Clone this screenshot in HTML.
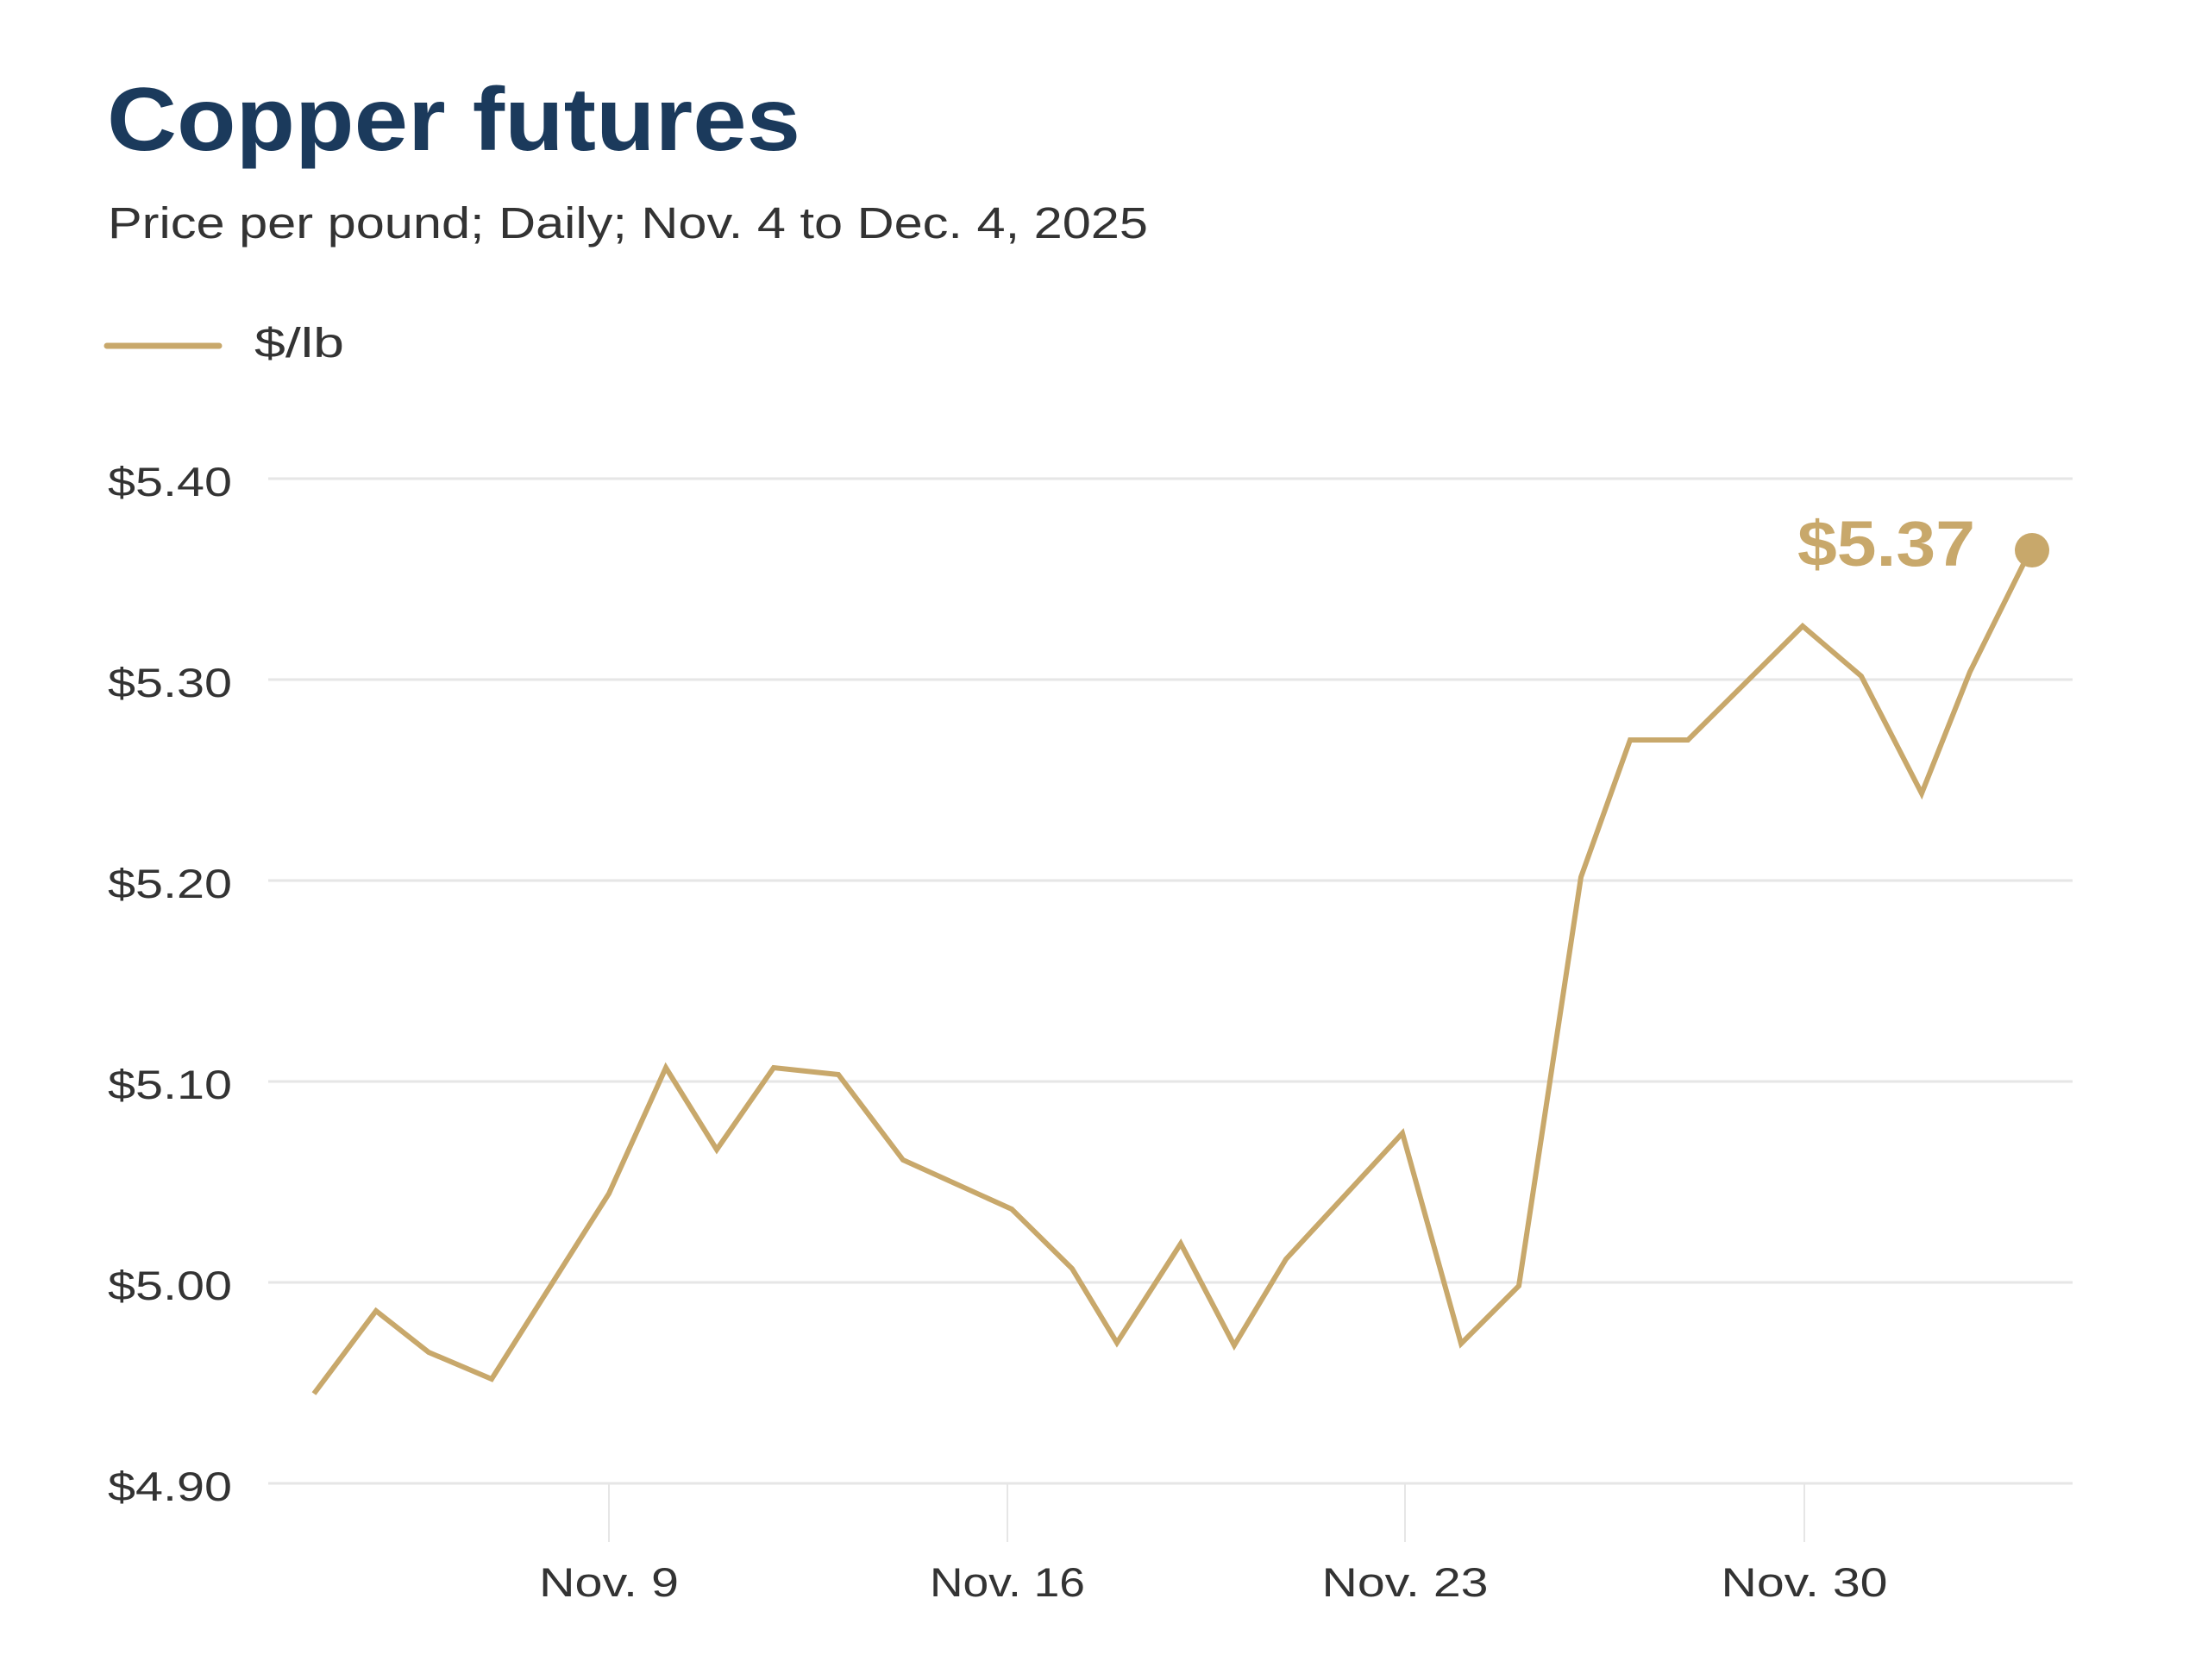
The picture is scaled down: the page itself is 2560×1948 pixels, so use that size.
<!DOCTYPE html>
<html><head><meta charset="utf-8"><style>
html,body{margin:0;padding:0;background:#fff;}
svg{display:block;}
text{font-family:"Liberation Sans",sans-serif;}
</style></head><body>
<svg width="2560" height="1948" viewBox="0 0 2560 1948" xmlns="http://www.w3.org/2000/svg">
<rect width="2560" height="1948" fill="#fff"/>
<text x="124" y="174" font-size="104" font-weight="bold" fill="#1b3a5c" textLength="804" lengthAdjust="spacingAndGlyphs">Copper futures</text>
<text x="125" y="276" font-size="51" fill="#333" textLength="1206" lengthAdjust="spacingAndGlyphs">Price per pound; Daily; Nov. 4 to Dec. 4, 2025</text>
<line x1="124" y1="401" x2="254" y2="401" stroke="#c8a86b" stroke-width="7" stroke-linecap="round"/>
<text x="295" y="414" font-size="48" fill="#333" textLength="104" lengthAdjust="spacingAndGlyphs">$/lb</text>
<g stroke="#e6e6e6" stroke-width="3">
<line x1="311" y1="555" x2="2403" y2="555"/>
<line x1="311" y1="788" x2="2403" y2="788"/>
<line x1="311" y1="1021" x2="2403" y2="1021"/>
<line x1="311" y1="1254" x2="2403" y2="1254"/>
<line x1="311" y1="1487" x2="2403" y2="1487"/>
<line x1="311" y1="1720" x2="2403" y2="1720"/>
</g>
<g stroke="#e6e6e6" stroke-width="2">
<line x1="706" y1="1720" x2="706" y2="1788"/>
<line x1="1168" y1="1720" x2="1168" y2="1788"/>
<line x1="1629" y1="1720" x2="1629" y2="1788"/>
<line x1="2092" y1="1720" x2="2092" y2="1788"/>
</g>
<g font-size="47" fill="#333">
<text x="125" y="575" textLength="144" lengthAdjust="spacingAndGlyphs">$5.40</text>
<text x="125" y="808" textLength="144" lengthAdjust="spacingAndGlyphs">$5.30</text>
<text x="125" y="1041" textLength="144" lengthAdjust="spacingAndGlyphs">$5.20</text>
<text x="125" y="1274" textLength="144" lengthAdjust="spacingAndGlyphs">$5.10</text>
<text x="125" y="1507" textLength="144" lengthAdjust="spacingAndGlyphs">$5.00</text>
<text x="125" y="1740" textLength="144" lengthAdjust="spacingAndGlyphs">$4.90</text>
</g>
<g font-size="47" fill="#333" text-anchor="middle">
<text x="706" y="1851" textLength="162" lengthAdjust="spacingAndGlyphs">Nov. 9</text>
<text x="1168" y="1851" textLength="180" lengthAdjust="spacingAndGlyphs">Nov. 16</text>
<text x="1629" y="1851" textLength="193" lengthAdjust="spacingAndGlyphs">Nov. 23</text>
<text x="2092" y="1851" textLength="193" lengthAdjust="spacingAndGlyphs">Nov. 30</text>
</g>
<polyline fill="none" stroke="#c8a86b" stroke-width="6" stroke-linejoin="miter" points="364,1616 436,1520 497,1568 570,1599 706,1384 772,1238 831,1333 897,1238 972,1246 1047,1345 1173,1402 1243,1471 1295,1557 1369,1442 1431,1560 1491,1460 1626,1314 1694,1558 1761,1491 1833,1017 1890,858 1957,858 2090,726 2158,784 2228,920 2284,779 2354,638"/>
<circle cx="2356" cy="638" r="20" fill="#c8a86b"/>
<text x="2290" y="656" font-size="74" font-weight="bold" fill="#c8a86b" text-anchor="end" textLength="206" lengthAdjust="spacingAndGlyphs">$5.37</text>
</svg>
</body></html>
